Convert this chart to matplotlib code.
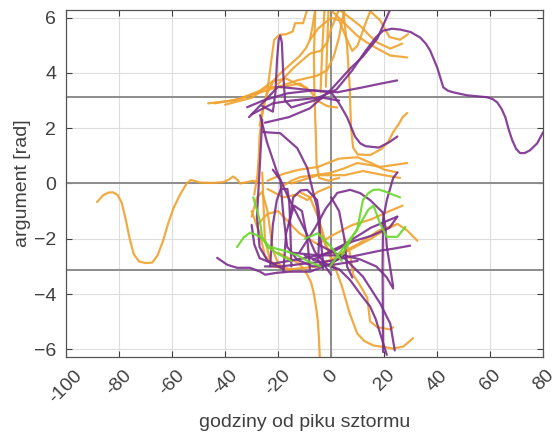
import matplotlib
matplotlib.use("Agg")
import matplotlib.pyplot as plt

# hours from storm peak vs. argument [rad]; one list of (hour, rad) per track
ORANGE_TRACKS = [
    [(-88.3, -0.67), (-86, -0.42), (-84, -0.33), (-82.3, -0.32), (-80.5, -0.42), (-79, -0.7),
     (-77.5, -1.3), (-76, -2.0), (-74.5, -2.55), (-72.5, -2.82), (-70, -2.88), (-67.5, -2.86),
     (-65.5, -2.6), (-63.5, -2.1), (-61.5, -1.45), (-59.5, -0.9), (-57, -0.4), (-54.5, 0.0),
     (-53, 0.13), (-51, 0.08), (-49.4, 0.03), (-44.5, 0.02), (-40.7, 0.05), (-38.5, 0.15),
     (-37, 0.25), (-35.5, 0.15), (-34.3, 0.0), (-31.7, 0.05), (-29.5, 0.1), (-28, 0.05)],
    [(-46.4, 2.9), (-37, 3.0), (-28, 3.26), (-20.4, 3.48), (-12.8, 3.73), (-5.3, 3.9),
     (-1.5, 4.1), (1, 4.6), (3, 5.3), (5, 6.3)],
    [(-27, 2.1), (-25.5, 2.8), (-24, 3.3), (-21.5, 3.75), (-19, 4.0), (-15.5, 4.3), (-12, 4.6),
     (-9.5, 4.9), (-8, 5.2), (-7, 5.7), (-6, 6.3)],
    [(-29, -0.4), (-27.8, 0.3), (-27.3, 1.0), (-27, 1.7), (-26, 2.5), (-24, 3.4), (-22.5, 4.5),
     (-21.5, 5.2), (-19.5, 5.38), (-17, 5.4), (-14.5, 5.5), (-13.6, 5.8), (-10.6, 5.8), (-9, 6.3)],
    [(-40, 2.85), (-30, 3.1), (-24, 3.5), (-19, 3.48), (-11.7, 3.62), (-7.5, 3.3), (-5.3, 3.0),
     (-1.5, 2.8), (2.3, 2.75)],
    [(-44, 2.9), (-35, 3.05), (-27, 3.35), (-22, 3.7), (-17, 3.8), (-13, 3.6), (-9, 3.45)],
    [(-6, 6.3), (-6.5, 4.6), (-6.3, 3.2), (-5.8, 1.8), (-5.5, 0.7), (-4.5, 0.2), (-1, 0.1), (3, 0.2)],
    [(4.5, 6.3), (6, 5.0), (7, 3.5), (7.5, 2.0), (8.3, 1.3), (10, 1.05), (14.7, 1.03), (19, 1.25),
     (21.5, 1.5), (23.4, 1.86), (25.5, 2.15), (27, 2.4), (28.7, 2.55)],
    [(-0.4, 6.3), (5, 5.8), (9.8, 5.35), (13.5, 5.1), (17.4, 4.88), (22.3, 4.63), (28.7, 4.56)],
    [(3, 6.3), (7, 6.0), (11, 5.7), (14.5, 5.35), (17.4, 5.1), (22.3, 4.88), (26.8, 5.06)],
    [(14, 6.3), (18.5, 5.9), (22, 5.3), (26, 5.2), (29, 5.4)],
    [(-20, 3.6), (-14, 4.2), (-8, 4.7), (-4, 4.8), (-1.5, 5.1), (0, 5.6), (3, 6.3)],
    [(-4, 3.3), (-3.5, 4.5), (-3, 5.5), (-2.5, 6.3)],
    [(-2, 3.5), (-1.5, 5.0), (-1, 6.3)],
    [(-8, 5.2), (-5, 5.6), (0, 6.0), (3, 5.9), (6, 5.2), (8, 4.8), (10, 5.0), (13, 5.8), (15, 6.3)],
    [(-19, -0.13), (-15, 0.1), (-11.7, 0.23), (-0.4, 0.38), (5, 0.55), (9.8, 0.74), (14, 0.68),
     (18.5, 0.6), (28.7, 0.74)],
    [(-24, 0.1), (-18, 0.35), (-12, 0.5), (-5, 0.6), (3, 0.9), (10, 0.95), (16, 0.7), (20, 0.5),
     (25, 0.4)],
    [(-15, 0.0), (-5, 0.3), (5, 0.3), (12, 0.45), (20, 0.3), (26, 0.2)],
    [(-4, -1.5), (-1, -2.5), (0.8, -2.9), (2.5, -3.3), (4, -3.7), (7, -4.7), (9.8, -5.42),
     (12.5, -5.7), (15.9, -5.86), (23.4, -5.97), (27.2, -5.9), (30.9, -5.6)],
    [(5, -2.0), (7, -2.5), (8.3, -3.3), (11, -3.7), (13.6, -4.13), (14.2, -4.6), (14.7, -4.99),
     (17.4, -5.2), (22.3, -5.28), (23.4, -5.2)],
    [(-20, -2.5), (-12, -2.9), (-9, -3.3), (-7.5, -3.6), (-6.5, -4.0), (-5.5, -4.6), (-5, -5.0),
     (-4.6, -5.6), (-4.3, -6.3)],
    [(-30, -1.0), (-27, -1.8), (-25, -2.6), (-22, -3.0), (-15, -3.1), (-5, -3.0), (5, -2.5),
     (15, -2.0), (20, -1.7), (25, -1.46), (28.7, -1.7), (32.5, -2.07)],
    [(-28, -1.5), (-24, -1.1), (-20, -1.0), (-16, -1.4), (-12, -1.8), (-5, -2.2), (0, -1.9),
     (8, -1.5), (15, -1.3), (22, -1.0), (27, -0.8)],
    [(-26, 0.4), (-25.5, -0.8), (-25, -2.0), (-23, -2.8), (-18, -3.1)],
    [(-30, -1.2), (-28, -0.5), (-26, -0.3), (-24, -1.0), (-22, -2.4), (-20, -2.9), (-15, -3.2)],
    [(-12, -0.3), (-8, -0.5), (-5, -1.2), (-2, -2.3), (2, -2.6), (10, -2.2), (18, -1.7),
     (24, -1.5)],
    [(-24, -0.2), (-18, -0.5), (-13, -0.4), (-9, -0.6), (-5, -0.3), (0, -0.1)],
]

PURPLE_TRACKS = [
    [(-26, 2.8), (-22, 2.6), (-21, 3.3), (-20.4, 4.5), (-19.8, 5.2), (-19.2, 5.35), (-18.6, 5.1),
     (-18.1, 4.0), (-17.4, 3.0), (-15, 2.75), (-10, 2.9), (-3, 3.1), (3, 3.0)],
    [(-30, 2.5), (-22, 2.9), (-15, 3.0), (-5, 3.1), (2, 3.4), (8, 4.1), (13, 4.8), (17, 5.3),
     (19.6, 5.53), (23, 5.6), (26, 5.57), (30, 5.48), (33.6, 5.28), (35.8, 5.05), (37.4, 4.8),
     (40, 4.2), (42.3, 3.48), (44, 3.36), (46, 3.3), (51.3, 3.19), (58.9, 3.12), (61, 3.05),
     (62.6, 2.94), (64.3, 2.7), (65.7, 2.4), (67, 1.95), (68.3, 1.57), (69.8, 1.25), (71.3, 1.1),
     (73, 1.1), (75, 1.2), (77.7, 1.45), (80, 1.86)],
    [(-25, 2.2), (-16, 2.4), (-8, 2.72), (0, 3.4), (7.2, 4.16), (12, 4.6), (17.4, 5.24), (22.3, 6.3)],
    [(-31.7, 2.76), (-25.7, 3.0), (-16.6, 3.26), (-6.8, 3.37), (2.3, 3.3), (12, 3.48), (18, 3.6),
     (24.9, 3.73)],
    [(-31, 2.4), (-20, 3.5), (-10, 3.4), (0, 3.3), (3, 2.9), (6, 2.4), (9, 1.7), (11, 1.45),
     (13, 1.35), (18, 1.3), (22, 1.5), (25, 1.7)],
    [(-26.8, 2.47), (-24.2, 1.49), (-20.4, 0.41), (-16.6, -0.41), (-12.8, -1.13), (-9, -1.86),
     (-6, -2.5), (-2, -2.9), (2, -3.1)],
    [(-25.7, 1.86), (-19.2, 1.82), (-12.8, 1.28), (-9, 0.56), (-6.8, -0.31), (-5.3, -0.88),
     (-4, -2.0), (-3, -2.9), (0, -3.3)],
    [(25, 0.4), (23.4, 0.2), (21, -0.6), (19.6, -1.3), (19.4, -3.0), (19.5, -4.5), (19.6, -6.1)],
    [(-43, -2.69), (-39.2, -2.94), (-35.5, -3.05), (-30.6, -3.05), (-26.8, -3.19), (-24.9, -3.3),
     (-20.4, -3.23), (-15.5, -3.19), (-7.9, -3.19), (-4.2, -3.05), (0, -2.9), (5, -2.6)],
    [(-10, -2.6), (-3, -2.9), (3, -3.1), (7.2, -3.5), (11, -4.0), (14.7, -4.45), (16.8, -4.9),
     (18.5, -5.43), (21, -6.2)],
    [(-5, -2.2), (5, -2.7), (12, -3.37), (18.5, -4.34), (22.3, -5.07), (24, -6.04)],
    [(-15, -2.5), (-5, -2.6), (5, -2.6), (11, -2.75), (17, -3.0), (21, -3.4), (23.4, -3.8)],
    [(-25, -3.0), (-19, -3.0), (-10, -2.9), (-0.4, -2.8), (10, -2.6), (18.5, -2.43), (24, -2.35),
     (29.8, -2.25)],
    [(-12, -2.5), (-6, -1.6), (-2, -0.9), (-0.4, -0.7), (2.3, -0.34), (7.2, -0.23), (11, -0.35),
     (14.7, -0.6), (19.6, -1.06), (20.5, -1.6), (21, -2.29), (22.2, -3.0), (23.4, -3.73)],
    [(-23, -3.0), (-22.5, -2.2), (-22, -1.5), (-20.5, -0.6), (-19, -0.2), (-16.5, -0.2),
     (-15.8, -0.7), (-15.5, -1.3), (-15, -3.0)],
    [(-18, -3.2), (-17, -1.8), (-14, -0.8), (-11, -1.0), (-9, -2.0), (-8, -3.1)],
    [(-26, 2.3), (-27, 0.5), (-28, -1.2), (-27, -2.3), (-24, -2.8), (-18, -3.1)],
    [(-30, -1.5), (-29, -2.2), (-27, -2.7), (-22, -2.9), (-10, -2.7), (0, -2.5), (8, -2.1),
     (15, -1.9), (22, -1.6), (25, -1.2)],
    [(0, -0.5), (3, -1.0), (5, -2.0), (6, -3.0), (8, -3.4)],
    [(-22, 0.5), (-19.2, 0.13), (-18.1, -1.06), (-16.6, -2.29), (-12.8, -2.76), (-6.8, -3.0),
     (0, -2.95), (10, -2.8)],
    [(-16, -1.5), (-14.3, -0.5), (-11.5, -0.25), (-9, -0.23), (-5.3, -0.6), (-4.2, -1.3),
     (-4.9, -2.76), (-3, -3.1)],
    [(-6.8, -2.76), (5, -2.2), (15, -1.6), (24.9, -1.2)],
]

GREEN_TRACKS = [
    [(-0.4, -3.0), (4, -2.4), (9.8, -1.68), (12, -0.6), (14, -0.35), (15.9, -0.23), (18, -0.22),
     (21, -0.31), (23.4, -0.41), (26, -0.5)],
    [(4, -2.6), (8, -1.93), (11, -1.46), (14, -0.95), (16, -0.8), (18.5, -1.46), (21, -1.93),
     (25, -1.93), (28, -1.57)],
    [(-35.5, -2.3), (-33, -1.95), (-30.6, -1.78), (-28.5, -1.85), (-26.8, -1.93), (-23, -2.3),
     (-17, -2.45), (-12.8, -2.6), (-8, -2.85), (-4, -3.0)],
    [(-29.4, -0.5), (-28, -0.95), (-26.8, -1.4), (-26, -1.93), (-24, -2.3), (-20, -2.55),
     (-15, -2.8)],
    [(-10, -2.0), (-5, -1.8), (0, -2.3), (4, -2.8)],
]

X_TICKS = [-100, -80, -60, -40, -20, 0, 20, 40, 60, 80]
Y_TICKS = [-6, -4, -2, 0, 2, 4, 6]
PI = 3.14159265

plt.rcParams["font.family"] = ["Liberation Sans", "DejaVu Sans"]

fig = plt.figure(figsize=(5.6, 4.47), dpi=100)
ax = fig.add_axes([0.118, 0.201, 0.852, 0.777])

for v in (-PI, 0, PI):
    ax.axhline(v, color="#8c8c8c", linewidth=1.4, zorder=1)
ax.axvline(0, color="#8c8c8c", linewidth=1.4, zorder=1)

for tracks, color in ((ORANGE_TRACKS, "#f0a22e"), (PURPLE_TRACKS, "#7b2f8e"),
                      (GREEN_TRACKS, "#6ad82a")):
    for tr in tracks:
        xs = [p[0] for p in tr]
        ys = [p[1] for p in tr]
        ax.plot(xs, ys, color=color, linewidth=1.6, alpha=0.9, zorder=2,
                solid_joinstyle="round", solid_capstyle="round")

ax.set_xlim(-100, 80)
ax.set_ylim(-2 * PI, 2 * PI)
ax.set_xticks(X_TICKS)
ax.set_yticks(Y_TICKS)
ax.set_xticklabels([str(t) for t in X_TICKS], rotation=45, ha="center")
ax.grid(True, color="#dddddd", linewidth=0.8, zorder=0)
ax.set_axisbelow(True)
ax.tick_params(direction="in", top=True, right=True, length=4, width=0.8,
               colors="#404040", labelsize=14, pad=7)
for sp in ax.spines.values():
    sp.set_color("#555555")
    sp.set_linewidth(0.9)

ax.set_xlabel("godziny od piku sztormu", fontsize=14, color="#404040", labelpad=5)
ax.set_ylabel("argument [rad]", fontsize=14, color="#404040", labelpad=2)

fig.savefig("out.png", dpi=100)
